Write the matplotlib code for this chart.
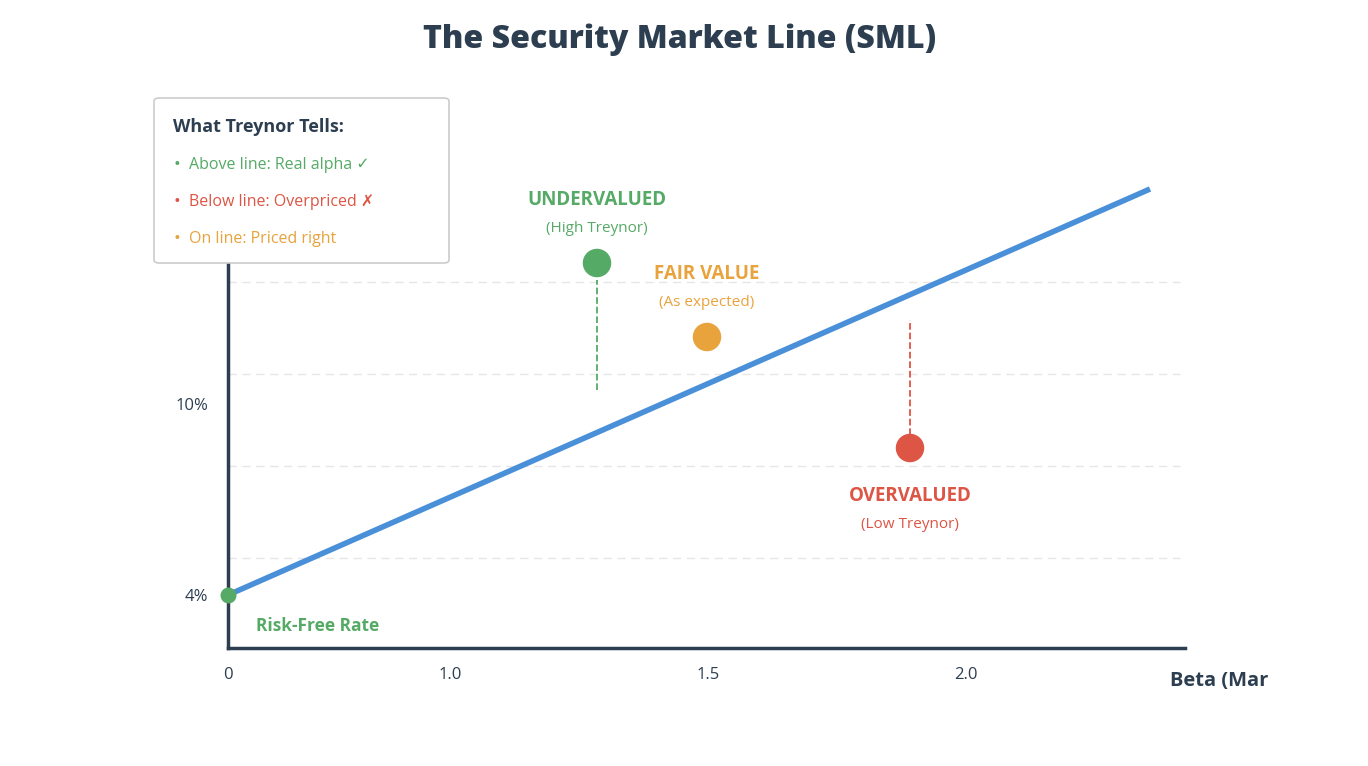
import matplotlib.pyplot as plt
from matplotlib.patches import FancyBboxPatch

plt.rcParams['font.family'] = ['Open Sans', 'DejaVu Sans']

# chart space runs in screen-like units (0 at the y axis / x axis)
x_ticks = [0, 222, 480, 738]
x_labels = ["0", "1.0", "1.5", "2.0"]
y_ticks = [53, 244, 528]
y_labels = ["4%", "10%", "14%"]
grid_y = [90, 182, 274, 366]

sml_x = [0, 922]
sml_y = [53, 459]

stocks = ["UNDERVALUED", "FAIR VALUE", "OVERVALUED"]
stock_sub = ["(High Treynor)", "(As expected)", "(Low Treynor)"]
stock_x = [369, 479, 682]
stock_y = [385, 311, 200]
stock_col = ["#55aa66", "#e8a33d", "#dd5544"]

fig = plt.figure(figsize=(13.68, 7.66), dpi=100)
ax = fig.add_axes([228/1368, 118/766, 957/1368, 548/766])
ax.set_xlim(0, 957)
ax.set_ylim(0, 548)

for g in grid_y:
    ax.axhline(g, color="#e6e6e6", lw=1, ls=(0, (6, 4)), xmax=952/957)

ax.plot(sml_x, sml_y, color="#4a90d9", lw=4, solid_capstyle="butt")
ax.scatter([0], [53], s=110, color="#55aa66", zorder=5, clip_on=False)
ax.text(28, 22, "Risk-Free Rate", color="#55aa66", fontsize=12.5, fontweight="bold", va="center")

# dashed drop lines
ax.plot([369, 369], [258, 368], color="#55aa66", lw=1.3, ls="--")
ax.plot([682, 682], [213, 328], color="#dd5544", lw=1.3, ls="--")

ax.scatter(stock_x, stock_y, s=380, color=stock_col, zorder=5)
ax.text(369, 448, stocks[0], color=stock_col[0], ha="center", va="center", fontsize=13.5, fontweight="bold")
ax.text(369, 419, stock_sub[0], color=stock_col[0], ha="center", va="center", fontsize=11)
ax.text(479, 374, stocks[1], color=stock_col[1], ha="center", va="center", fontsize=13.5, fontweight="bold")
ax.text(479, 345, stock_sub[1], color=stock_col[1], ha="center", va="center", fontsize=11)
ax.text(682, 152, stocks[2], color=stock_col[2], ha="center", va="center", fontsize=13.5, fontweight="bold")
ax.text(682, 123, stock_sub[2], color=stock_col[2], ha="center", va="center", fontsize=11)

for s in ["top", "right"]:
    ax.spines[s].set_visible(False)
for s in ["left", "bottom"]:
    ax.spines[s].set_color("#2c3e50")
    ax.spines[s].set_linewidth(2.5)
ax.set_xticks(x_ticks, x_labels)
ax.set_yticks(y_ticks, y_labels)
ax.tick_params(length=0, labelsize=12, colors="#2c3e50", pad=14)
ax.get_yticklabels()[-1].set_fontsize(13)

fig.text(1170/1368, 1 - 681/766, "Beta (Mar", fontsize=14.5, fontweight="bold", color="#2c3e50", va="center")
fig.text(0.497, 1 - 40/766, "The Security Market Line (SML)", fontsize=23, fontweight="heavy",
         color="#2c3e50", ha="center", va="center")

# info box
box = FancyBboxPatch((154/1368, 1 - 263/766), 295/1368, 165/766, boxstyle="round,pad=0,rounding_size=0.004",
                     transform=fig.transFigure, facecolor="white", edgecolor="#cccccc", lw=1.2, zorder=10)
fig.patches.append(box)
fig.text(173/1368, 1 - 127/766, "What Treynor Tells:", fontsize=13, fontweight="bold", color="#2c3e50", va="center", zorder=11)
items = ["Above line: Real alpha ✓", "Below line: Overpriced ✗", "On line: Priced right"]
for i, (t, c) in enumerate(zip(items, [stock_col[0], stock_col[2], stock_col[1]])):
    y = 1 - (165 + 37*i)/766
    fig.text(173/1368, y, "•", fontsize=13, color=c, va="center", zorder=11)
    fig.text(189/1368, y, t, fontsize=11.5, color=c, va="center", zorder=11,
             family=['Open Sans', 'DejaVu Sans'])

fig.savefig("out.png")
